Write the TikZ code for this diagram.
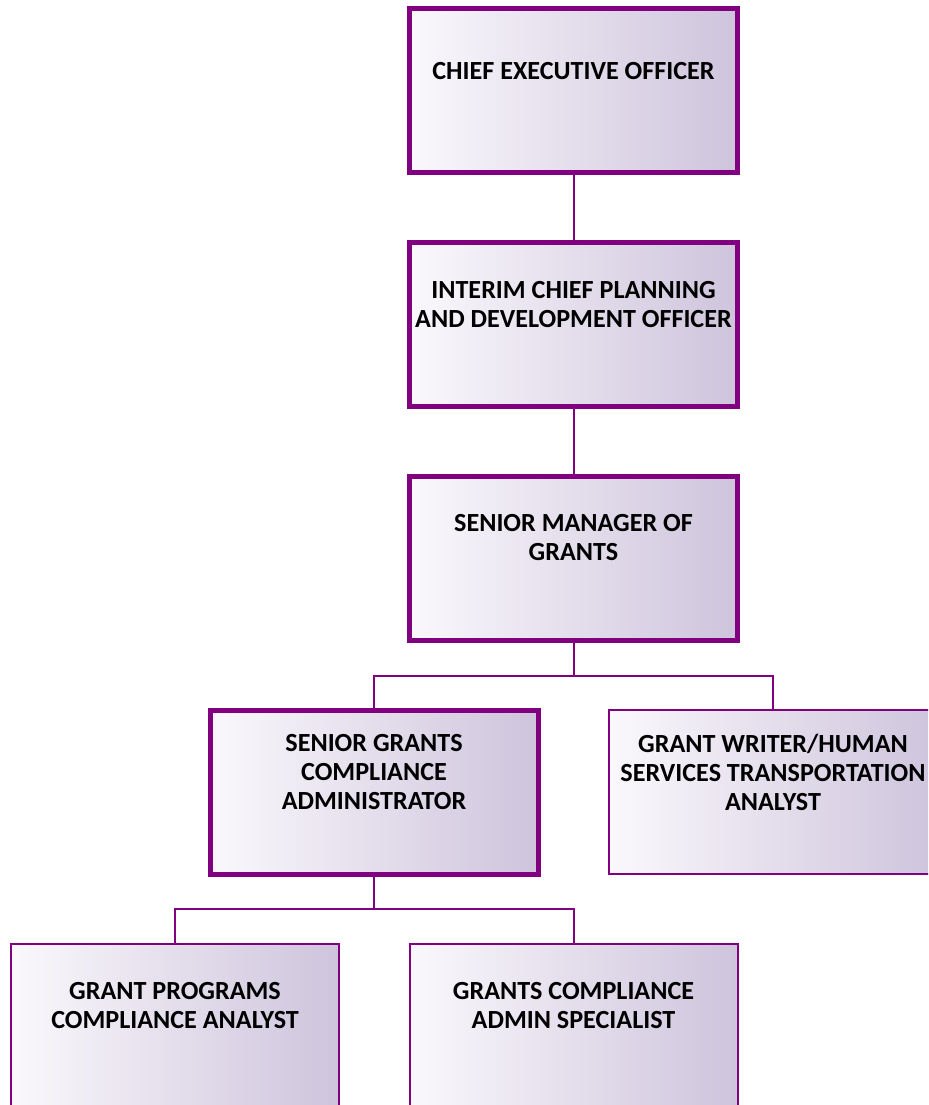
\documentclass[tikz,border=0pt]{standalone}
\usepackage{fontspec}
\setmainfont{Carlito}
\begin{document}
\definecolor{orgpurple}{RGB}{128,0,128}
\definecolor{boxleft}{RGB}{250,248,252}
\definecolor{boxright}{RGB}{206,196,220}
\begin{tikzpicture}[x=0.75pt,y=-0.75pt,
  box/.style={draw=orgpurple,rectangle,inner sep=0pt,
    minimum width=328*0.75pt,minimum height=164*0.75pt,
    left color=boxleft,right color=boxright},
  thickbox/.style={box,line width=3.75pt},
  thinbox/.style={box,line width=1.5pt},
  title/.style={font=\bfseries\fontsize{19.6pt}{21.75pt}\selectfont,
    align=center,text=black,yshift=15pt},
  link/.style={draw=orgpurple,line width=1.5pt}]
\useasboundingbox (0,0) rectangle (928,1105);
\clip (0,0) rectangle (928,1105);
\fill[white] (0,0) rectangle (928,1105);

% boxes
\node[thickbox] (ceo)  at (573.5,91)   {};
\node[thickbox] (icpd) at (573.5,324.5) {};
\node[thickbox] (smg)  at (573.5,558)  {};
\node[thickbox] (sgca) at (374,792)    {};
\node[thinbox]  (gwht) at (773,792)    {};
\node[thinbox]  (gpca) at (175,1026)   {};
\node[thinbox]  (gcas) at (573.5,1026) {};

% connectors
\coordinate (j1) at (573.5,676);
\coordinate (j2) at (374,909);
\draw[link] (ceo.south) -- (icpd.north);
\draw[link] (icpd.south) -- (smg.north);
\draw[link] (smg.south) -- (j1);
\draw[link] (sgca.north) |- (j1) -| (gwht.north);
\draw[link] (sgca.south) -- (j2);
\draw[link] (gpca.north) |- (j2) -| (gcas.north);

% titles
\node[title] (tceo)  at (ceo.center)  {CHIEF EXECUTIVE OFFICER};
\node[title] (ticpd) at (icpd.center) {INTERIM CHIEF PLANNING\\AND DEVELOPMENT OFFICER};
\node[title] (tsmg)  at (smg.center)  {SENIOR MANAGER OF\\GRANTS};
\node[title] (tsgca) at (sgca.center) {SENIOR GRANTS\\COMPLIANCE\\ADMINISTRATOR};
\node[title] (tgwht) at (gwht.center) {GRANT WRITER/HUMAN\\SERVICES TRANSPORTATION\\ANALYST};
\node[title] (tgpca) at (gpca.center) {GRANT PROGRAMS\\COMPLIANCE ANALYST};
\node[title] (tgcas) at (gcas.center) {GRANTS COMPLIANCE\\ADMIN SPECIALIST};
\end{tikzpicture}
\end{document}
